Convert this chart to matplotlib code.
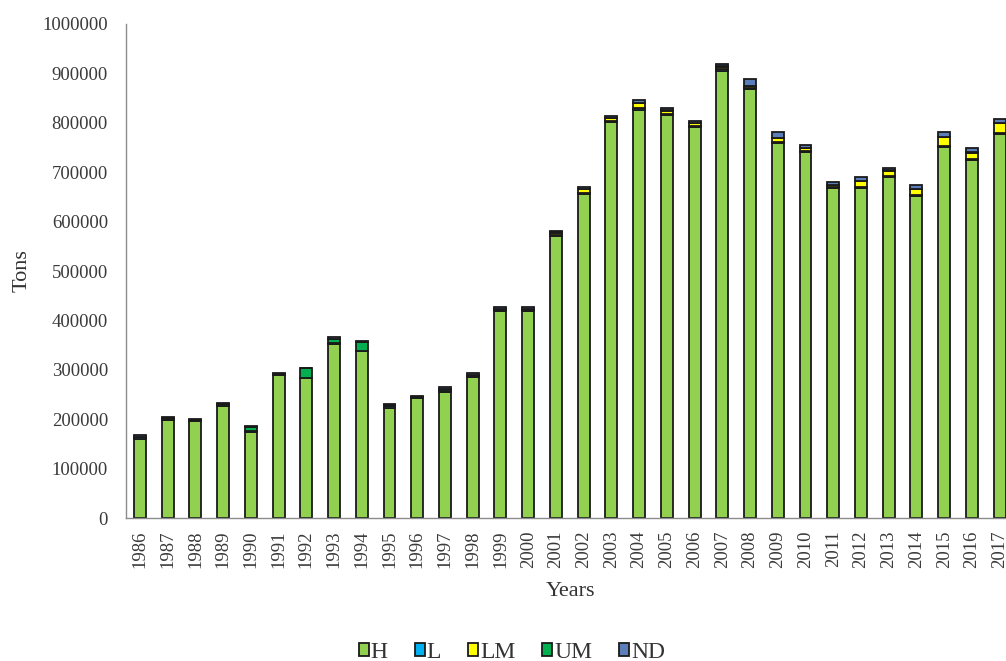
import matplotlib
matplotlib.use("Agg")
import matplotlib.pyplot as plt
import numpy as np

plt.rcParams['font.family'] = ['Liberation Serif', 'DejaVu Serif']

years = [str(y) for y in range(1986, 2018)]

# Tonnage per category, stacked bottom to top: H, L, LM, UM, ND
h_vals = [160000, 199000, 196000, 227000, 174000, 289000, 283000, 352000,
          338000, 223000, 243000, 255000, 286000, 419000, 419000, 571000,
          656000, 802000, 826000, 816000, 792000, 905000, 868000, 760000,
          741000, 668000, 668000, 691000, 652000, 751000, 725000, 777000]
l_vals = [3000, 2000, 2000, 2000, 2000, 2000, 1000, 2000,
          1000, 3000, 1000, 3000, 2000, 3000, 3000, 2000,
          2000, 2000, 3000, 2000, 2000, 3000, 2000, 2000,
          2000, 2000, 2000, 2000, 2000, 2000, 2000, 2000]
lm_vals = [0, 0, 0, 0, 0, 0, 0, 0,
           0, 0, 0, 0, 0, 0, 0, 4000,
           7000, 5000, 11000, 6000, 5000, 5000, 4000, 7000,
           5000, 4000, 12000, 10000, 11000, 18000, 12000, 20000]
um_vals = [2000, 1000, 1000, 2000, 8000, 1000, 19000, 9000,
           17000, 2000, 1000, 3000, 2000, 2000, 2000, 1000,
           1000, 1000, 1000, 1000, 1000, 1000, 1000, 1000,
           1000, 1000, 1000, 1000, 1000, 1000, 1000, 1000]
nd_vals = [4000, 2000, 2000, 2000, 2000, 2000, 1000, 3000,
           2000, 3000, 2000, 4000, 4000, 3000, 3000, 3000,
           4000, 4000, 5000, 5000, 4000, 5000, 14000, 11000,
           6000, 5000, 7000, 5000, 8000, 9000, 9000, 8000]

series = [("H", h_vals, "#92D050"),
          ("L", l_vals, "#00B0F0"),
          ("LM", lm_vals, "#FFFF00"),
          ("UM", um_vals, "#00B050"),
          ("ND", nd_vals, "#5B7DB8")]

fig = plt.figure(figsize=(10.06, 6.61), dpi=100)
ax = fig.add_axes([0.1252, 0.2163, 0.8748, 0.7474])

x = np.arange(len(years))
bottom = np.zeros(len(years))
for name, vals, color in series:
    v = np.array(vals, dtype=float)
    ax.bar(x, v, width=0.43, bottom=bottom, color=color,
           edgecolor="#1a1a1a", linewidth=1.3, label=name)
    bottom += v

ax.set_xlim(-0.505, 31.23)
ax.set_ylim(0, 1000000)
ax.set_yticks(np.arange(0, 1000001, 100000))
ax.set_yticklabels([str(v) for v in range(0, 1000001, 100000)])
ax.set_xticks(x)
ax.set_xticklabels(years, rotation=90)

ax.tick_params(axis='y', length=0, pad=13, labelsize=13.5, labelcolor="#3a3a3a")
ax.tick_params(axis='x', length=0, pad=9, labelsize=13.5, labelcolor="#3a3a3a")

for side in ("top", "right"):
    ax.spines[side].set_visible(False)
for side in ("left", "bottom"):
    ax.spines[side].set_color("#8c8c8c")
    ax.spines[side].set_linewidth(1.0)

fig.text(0.022, 0.59, "Tons", rotation=90, ha="center", va="center",
         fontsize=16, color="#333333")
fig.text(0.567, 0.105, "Years", ha="center", va="center",
         fontsize=16, color="#333333")

fig.legend(loc="center", bbox_to_anchor=(0.509, 0.013), ncol=5,
           frameon=False, fontsize=17, handlelength=0.42, handleheight=0.42,
           handletextpad=0.08, columnspacing=1.15, labelcolor="#333333")

fig.savefig("out.png", dpi=100)
